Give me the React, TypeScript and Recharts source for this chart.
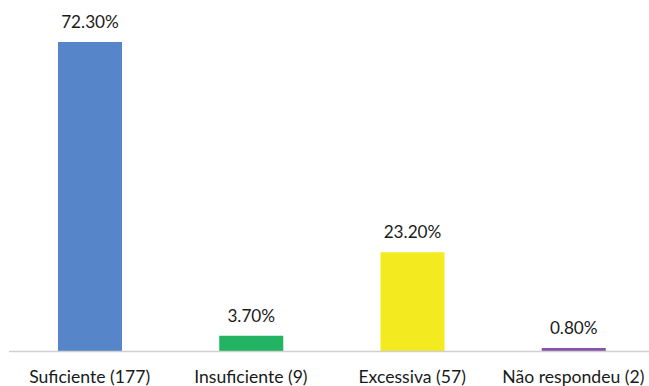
import { BarChart, Bar, XAxis, YAxis, Cell, LabelList } from "recharts";

const categories = ["Suficiente (177)", "Insuficiente (9)", "Excessiva (57)", "Não respondeu (2)"];
const percentages = [72.3, 3.7, 23.2, 0.8];
const barColors = ["#5686c9", "#22b463", "#f3ea1f", "#8452a8"];

const data = categories.map((name, i) => ({ name, value: percentages[i] }));

const font = "Lato, 'Open Sans', sans-serif";

export default function App() {
  return (
    <div
      style={{
        position: "absolute",
        left: 0,
        top: 0,
        width: 649,
        height: 386,
        overflow: "hidden",
        background: "#fff",
        fontFamily: font,
      }}
    >
      <BarChart
        width={660}
        height={386}
        data={data}
        margin={{ top: 9, left: 9, right: 6, bottom: 0 }}
      >
        <YAxis hide domain={[0, 80]} />
        <XAxis
          dataKey="name"
          height={34.5}
          tickSize={0}
          tickMargin={19.5}
          axisLine={{ stroke: "#d0d0d0", strokeWidth: 1.5 }}
          tickLine={false}
          interval={0}
          tick={{ fill: "#1a1a1a", fontSize: 17.6, fontFamily: font }}
        />
        <Bar dataKey="value" barSize={64} isAnimationActive={false}>
          {data.map((d, i) => (
            <Cell key={d.name} fill={barColors[i]} />
          ))}
          <LabelList
            dataKey="value"
            position="top"
            offset={14}
            formatter={(v: number) => `${v.toFixed(2)}%`}
            style={{ fill: "#1a1a1a", fontSize: 17.2, fontFamily: font }}
          />
        </Bar>
      </BarChart>
    </div>
  );
}
